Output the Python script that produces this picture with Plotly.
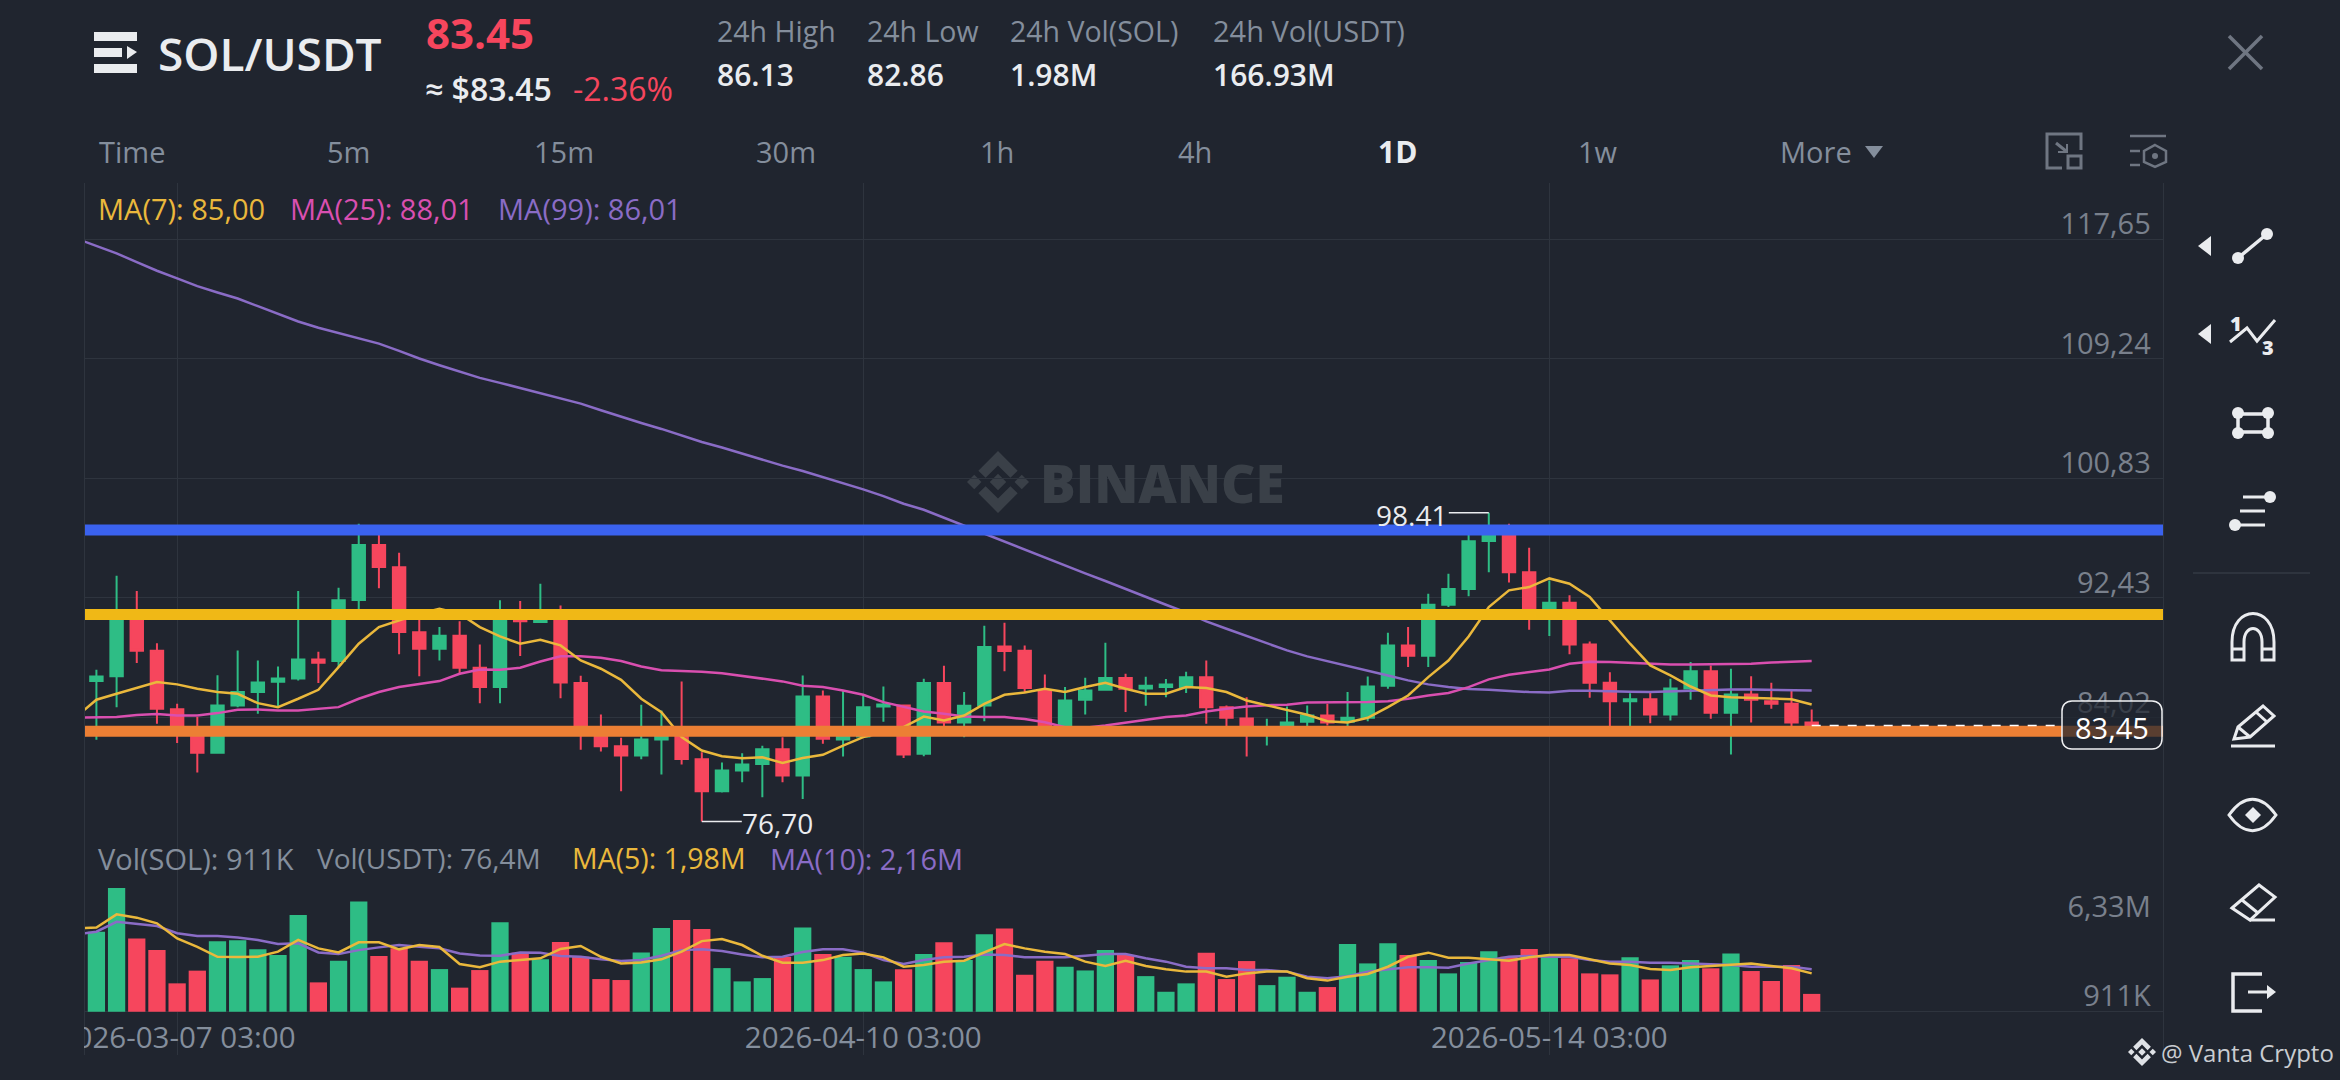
import pandas as pd
import plotly.graph_objects as go

W, H = 2340, 1080
BG = "#20252f"
GRID = "#2e343e"
GREEN = "#2ebd85"
RED = "#f6465d"
GRAY = "#848e9c"
WHITE = "#eaecef"
YELLOW = "#eab83c"
PINK = "#d94fb0"
PURPLE = "#8a6cc6"
FONT = "Open Sans"

# region Data
dates = pd.date_range("2026-03-02 03:00", periods=87, freq="D")

opens = [84.30, 86.57, 86.92, 90.79, 88.70, 84.60, 82.86, 81.53, 84.86, 85.80, 86.52,
         86.76, 88.09, 87.98, 92.27, 96.14, 94.57, 90.00, 88.85, 89.76, 87.51,
         86.15, 91.12, 90.72, 91.54, 86.43, 82.98, 81.99, 81.34, 82.46, 82.75,
         81.08, 78.83, 80.28, 80.75, 81.78, 79.93, 85.49, 82.46, 82.68, 84.79,
         84.86, 81.46, 86.43, 83.66, 84.86, 89.00, 88.70, 85.91, 82.91, 85.26,
         85.96, 86.78, 86.05, 86.15, 86.15, 86.85, 84.74, 83.94, 82.91, 82.91,
         83.71, 84.15, 83.71, 83.99, 86.24, 89.08, 88.35, 91.94, 93.04, 96.42,
         97.06, 94.22, 90.96, 92.08, 89.15, 86.45, 85.16, 85.30, 84.22, 86.05,
         87.27, 84.34, 85.63, 85.16, 84.97, 83.66]
highs = [86.62, 87.37, 93.98, 92.90, 89.24, 84.97, 84.04, 86.99, 88.73, 88.02, 87.60,
         92.90, 88.63, 93.14, 97.64, 97.50, 95.60, 91.07, 90.37, 90.77, 89.15,
         92.25, 92.20, 93.42, 91.89, 86.95, 84.22, 82.58, 84.90, 84.51, 86.55,
         81.57, 80.85, 81.50, 82.02, 82.63, 86.97, 85.91, 85.87, 85.61, 86.19,
         84.93, 86.73, 87.65, 85.80, 90.46, 90.67, 89.08, 87.04, 86.15, 86.80,
         89.27, 87.09, 86.87, 86.71, 87.23, 88.02, 84.86, 85.44, 83.92, 84.79,
         84.86, 84.97, 85.80, 86.90, 89.97, 90.37, 92.72, 94.12, 96.87, 98.41,
         97.64, 95.95, 93.65, 92.60, 89.36, 87.20, 85.72, 85.80, 86.73, 87.91,
         87.67, 87.44, 86.92, 86.45, 85.96, 84.58]
lows = [84.30, 82.44, 84.74, 87.84, 83.57, 82.21, 80.14, 81.46, 84.74, 84.27, 84.74,
        86.62, 86.43, 87.56, 91.64, 93.09, 88.45, 86.92, 88.02, 87.04, 85.02,
        85.02, 88.33, 90.65, 85.37, 81.74, 81.62, 78.83, 81.08, 80.00, 80.71,
        76.70, 78.73, 79.46, 78.41, 79.46, 78.29, 82.16, 81.27, 82.60, 83.71,
        81.17, 81.29, 83.33, 82.63, 83.75, 87.27, 85.80, 82.75, 82.75, 84.22,
        85.91, 84.39, 84.83, 85.44, 85.73, 83.57, 82.91, 81.27, 82.04, 82.75,
        83.10, 83.45, 83.33, 83.75, 86.03, 87.56, 87.56, 91.78, 92.53, 94.22,
        93.51, 90.18, 89.74, 88.45, 85.40, 83.33, 83.38, 83.61, 83.80, 85.26,
        83.92, 81.41, 83.66, 84.62, 83.33, 82.98]
closes = [86.62, 86.90, 90.79, 88.70, 84.62, 82.86, 81.53, 84.86, 85.80, 86.48, 86.76,
          88.09, 87.86, 92.25, 96.14, 94.59, 90.02, 88.85, 89.76, 87.51, 86.15,
          90.89, 90.77, 91.07, 86.48, 82.98, 81.99, 81.34, 82.46, 82.68, 81.10,
          78.83, 80.28, 80.71, 81.78, 79.93, 85.49, 82.51, 82.68, 84.74, 84.93,
          81.41, 86.43, 83.66, 84.83, 88.96, 88.68, 86.08, 82.91, 85.21, 85.91,
          86.78, 86.03, 86.24, 86.34, 86.85, 84.74, 83.99, 82.91, 83.10, 83.66,
          84.15, 83.66, 83.99, 86.19, 89.08, 88.35, 91.94, 93.04, 96.40, 97.06,
          94.22, 91.59, 92.08, 89.15, 86.45, 85.16, 85.30, 84.22, 86.05, 87.27,
          84.34, 85.63, 85.26, 84.97, 83.66, 83.45]

ma7 = [84.06, 85.26, 85.68, 86.10, 86.50, 86.34, 86.03, 85.80, 85.68, 85.02, 84.74,
       85.33, 85.96, 87.55, 89.20, 90.37, 90.84, 91.31, 91.66, 91.31, 90.37,
       89.71, 89.20, 89.48, 89.08, 88.02, 87.44, 86.66, 85.33, 84.39, 82.63,
       81.69, 81.29, 81.15, 81.22, 80.82, 81.17, 81.39, 82.04, 82.63, 82.98,
       83.33, 84.08, 83.80, 84.15, 84.97, 85.61, 85.77, 86.03, 85.80, 86.15,
       86.45, 86.03, 85.68, 85.68, 86.15, 86.08, 85.80, 85.21, 84.86, 84.51,
       84.20, 83.75, 83.66, 83.99, 84.74, 85.56, 86.85, 88.02, 89.71, 91.78,
       92.95, 93.18, 93.79, 93.42, 92.48, 90.84, 89.20, 87.67, 86.97, 86.19,
       85.56, 85.44, 85.40, 85.37, 85.30, 84.93]
ma25 = [84.01, 84.04, 84.04, 84.18, 84.25, 84.15, 84.15, 84.32, 84.55, 84.58, 84.51,
        84.51, 84.60, 84.74, 85.33, 85.80, 86.15, 86.36, 86.57, 87.09, 87.39,
        87.37, 87.51, 87.95, 88.31, 88.31, 88.21, 87.98, 87.60, 87.34, 87.30,
        87.23, 87.13, 86.95, 86.73, 86.55, 86.24, 86.15, 85.91, 85.61, 85.09,
        84.74, 84.43, 84.27, 84.08, 84.04, 84.04, 83.90, 83.68, 83.33, 83.29,
        83.45, 83.66, 83.87, 84.04, 84.15, 84.43, 84.62, 84.79, 84.88, 84.90,
        85.07, 85.07, 85.09, 85.11, 85.16, 85.33, 85.56, 85.73, 86.15, 86.69,
        87.02, 87.20, 87.39, 87.79, 87.93, 87.91, 87.84, 87.79, 87.74, 87.74,
        87.74, 87.74, 87.79, 87.88, 87.95, 87.98]
ma99 = [117.69, 117.18, 116.64, 116.03, 115.42, 114.88, 114.34, 113.89, 113.47, 112.93, 112.37,
        111.85, 111.41, 111.03, 110.70, 110.30, 109.79, 109.25, 108.78, 108.31, 107.89,
        107.54, 107.18, 106.83, 106.48, 106.08, 105.61, 105.14, 104.72, 104.30, 103.85,
        103.38, 102.99, 102.56, 102.14, 101.72, 101.34, 100.92, 100.50, 100.05, 99.58,
        99.04, 98.62, 98.06, 97.52, 96.91, 96.35, 95.79, 95.25, 94.69, 94.15,
        93.61, 93.04, 92.50, 91.94, 91.40, 90.77, 90.25, 89.74, 89.24, 88.73,
        88.31, 87.98, 87.67, 87.32, 86.97, 86.62, 86.34, 86.15, 86.01, 85.96,
        85.87, 85.80, 85.77, 85.89, 85.89, 85.84, 85.82, 85.80, 85.84, 85.91,
        85.96, 85.98, 85.98, 85.96, 85.96, 85.91]

# volumes in millions of SOL
volumes = [5.11, 4.09, 6.33, 3.75, 3.15, 1.45, 2.10, 3.60, 3.65, 3.19, 2.90,
           4.94, 1.50, 2.61, 5.64, 2.85, 3.24, 2.61, 2.18, 1.23, 2.13,
           4.57, 3.02, 2.68, 3.56, 2.81, 1.67, 1.62, 3.03, 4.28, 4.69,
           4.23, 2.23, 1.55, 1.72, 2.81, 4.31, 2.95, 2.81, 2.18, 1.55,
           2.17, 2.95, 3.55, 2.64, 3.96, 4.26, 1.89, 2.61, 2.30, 2.11,
           3.15, 2.90, 1.82, 1.02, 1.45, 3.02, 1.67, 2.59, 1.36, 1.79,
           1.02, 1.26, 3.46, 2.47, 3.50, 2.90, 2.64, 1.96, 2.54, 3.09,
           2.81, 3.21, 2.81, 2.73, 1.96, 1.91, 2.78, 1.65, 2.37, 2.64,
           2.22, 2.98, 2.08, 1.57, 2.39, 0.911]
vol_ma5 = [4.26, 4.31, 4.98, 4.81, 4.52, 3.75, 3.32, 2.81, 2.80, 2.81, 3.07,
           3.67, 3.24, 3.03, 3.55, 3.55, 3.19, 3.41, 3.31, 2.44, 2.27,
           2.56, 2.64, 2.73, 3.21, 3.36, 2.81, 2.47, 2.52, 2.68, 3.07,
           3.61, 3.72, 3.41, 2.86, 2.51, 2.51, 2.64, 2.90, 2.98, 2.78,
           2.30, 2.39, 2.56, 2.61, 3.02, 3.46, 3.24, 3.07, 2.95, 2.56,
           2.34, 2.61, 2.34, 2.17, 2.05, 2.05, 1.79, 1.96, 2.05, 2.05,
           1.71, 1.59, 1.79, 1.93, 2.30, 2.81, 3.02, 2.76, 2.76, 2.68,
           2.61, 2.78, 2.90, 2.90, 2.68, 2.47, 2.39, 2.18, 2.13, 2.27,
           2.34, 2.42, 2.47, 2.34, 2.22, 1.96]
vol_ma10 = [3.96, 4.09, 4.60, 4.48, 4.38, 4.01, 3.87, 3.87, 3.79, 3.67, 3.46,
            3.50, 3.03, 2.95, 3.15, 3.29, 3.41, 3.32, 3.24, 2.98, 2.88,
            2.86, 3.03, 3.02, 2.85, 2.81, 2.68, 2.59, 2.64, 2.86, 3.15,
            3.19, 3.10, 2.93, 2.78, 2.81, 3.05, 3.19, 3.19, 3.02, 2.64,
            2.44, 2.64, 2.78, 2.81, 2.93, 2.90, 2.78, 2.78, 2.78, 2.86,
            2.95, 2.95, 2.73, 2.56, 2.30, 2.22, 2.22, 2.13, 2.13, 2.05,
            1.79, 1.71, 1.82, 2.05, 2.17, 2.27, 2.27, 2.25, 2.47, 2.64,
            2.81, 2.85, 2.81, 2.81, 2.64, 2.56, 2.56, 2.51, 2.51, 2.47,
            2.42, 2.39, 2.30, 2.30, 2.30, 2.17]

price_ticks = [75.61, 84.02, 92.43, 100.83, 109.24, 117.65]
price_labels = ["75,61", "84,02", "92,43", "100,83", "109,24", "117,65"]
vol_ticks = [0, 4.54]
vol_labels = ["911K", "6,33M"]

resistance = 97.2
middle = 91.25
support = 83.05
last_price = 83.45
# endregion


# region Pixel helpers for everything around the chart
def px(x):
    return x / W


def py(y):
    return 1 - y / H


def to_paper(d):
    """Turns 'M x y L x y Z' written in screen pixels into paper coordinates."""
    out, is_x = [], True
    for tok in d.split():
        if tok.isalpha():
            out.append(tok)
        else:
            out.append(str(px(float(tok))) if is_x else str(py(float(tok))))
            is_x = not is_x
    return " ".join(out)


shapes = []
notes = []


def path(d, color=WHITE, width=3, fill=None, layer="above"):
    shapes.append(dict(type="path", xref="paper", yref="paper", path=to_paper(d), layer=layer,
                       fillcolor=fill or "rgba(0,0,0,0)", line=dict(color=color, width=width)))


def dot(cx, cy, r, color=WHITE):
    shapes.append(dict(type="circle", xref="paper", yref="paper", x0=px(cx - r), x1=px(cx + r),
                       y0=py(cy + r), y1=py(cy - r), fillcolor=color, line=dict(width=0)))


def txt(x, y, text, size, color=GRAY, anchor="left", weight=400):
    notes.append(dict(xref="paper", yref="paper", x=px(x), y=py(y), text=text, showarrow=False,
                      xanchor=anchor, yanchor="middle", borderpad=0,
                      font=dict(family=FONT, size=size, color=color, weight=weight)))


def binance_logo(cx, cy, r, color, layer="above"):
    # r is half the logo height
    s = r / 30
    def p(pts):
        return "M " + " L ".join(f"{cx + a * s} {cy + b * s}" for a, b in pts) + " Z"
    path(p([(0, -8), (8, 0), (0, 8), (-8, 0)]), color, 0, color, layer)
    path(p([(-30, 0), (-23, -7), (-16, 0), (-23, 7)]), color, 0, color, layer)
    path(p([(30, 0), (23, -7), (16, 0), (23, 7)]), color, 0, color, layer)
    path(p([(0, -30), (19, -11), (12, -4), (0, -16), (-12, -4), (-19, -11)]), color, 0, color, layer)
    path(p([(0, 30), (19, 11), (12, 4), (0, 16), (-12, 4), (-19, 11)]), color, 0, color, layer)
# endregion


fig = go.Figure()

# region Traces
vol_colors = [GREEN if c >= o else RED for o, c in zip(opens, closes)]

fig.add_trace(go.Candlestick(
    x=dates, open=opens, high=highs, low=lows, close=closes,
    increasing=dict(line=dict(color=GREEN, width=2), fillcolor=GREEN),
    decreasing=dict(line=dict(color=RED, width=2), fillcolor=RED),
    whiskerwidth=0, hoverinfo="skip", yaxis="y"))
for values, color in [(ma99, PURPLE), (ma25, PINK), (ma7, YELLOW)]:
    fig.add_trace(go.Scatter(x=dates, y=values, mode="lines", hoverinfo="skip", yaxis="y",
                             line=dict(color=color, width=2.5)))

fig.add_trace(go.Bar(x=dates, y=volumes, marker=dict(color=vol_colors, line=dict(width=0)),
                     width=74000000, hoverinfo="skip", yaxis="y2"))
for values, color in [(vol_ma10, PURPLE), (vol_ma5, YELLOW)]:
    fig.add_trace(go.Scatter(x=dates, y=values, mode="lines", hoverinfo="skip", yaxis="y2",
                             line=dict(color=color, width=2.5)))
# endregion

# region Levels and price marks
for level, color in [(resistance, "#3a62ef"), (middle, "#f0b816"), (support, "#ec7f34")]:
    shapes.append(dict(type="line", xref="x domain", yref="y", x0=0, x1=1, y0=level, y1=level,
                       layer="above", line=dict(color=color, width=11)))

# dashed line from the last candle to the price box
shapes.append(dict(type="line", xref="x", yref="y", x0=dates[-1], x1="2026-06-08 13:30",
                   y0=last_price, y1=last_price, layer="above",
                   line=dict(color="#ffffff", width=1.5, dash="dash")))
shapes.append(dict(type="path", xref="paper", yref="paper", layer="above",
                   path=to_paper("M 2072 701 L 2152 701 C 2158 701 2162 705 2162 711 L 2162 739 "
                                 "C 2162 745 2158 749 2152 749 L 2072 749 C 2066 749 2062 745 2062 739 "
                                 "L 2062 711 C 2062 705 2066 701 2072 701 Z"),
                   fillcolor="rgba(32,37,47,0.72)", line=dict(color="#f0f1f3", width=1.5)))
txt(2112, 727, "83,45", 29, "#ffffff", "center")

# high and low markers
low_i = lows.index(min(lows))
high_i = highs.index(max(highs))
shapes.append(dict(type="line", xref="x", yref="y", xsizemode="pixel", xanchor=dates[high_i],
                   x0=-40, x1=0, y0=highs[high_i], y1=highs[high_i], line=dict(color=WHITE, width=1.5)))
shapes.append(dict(type="line", xref="x", yref="y", xsizemode="pixel", xanchor=dates[low_i],
                   x0=0, x1=40, y0=lows[low_i], y1=lows[low_i], line=dict(color=WHITE, width=1.5)))
notes.append(dict(xref="x", yref="y", x=dates[high_i], y=highs[high_i], text="98.41", showarrow=False,
                  xanchor="right", yanchor="middle", xshift=-40, yshift=-2,
                  font=dict(family=FONT, size=28, color=WHITE)))
notes.append(dict(xref="x", yref="y", x=dates[low_i], y=lows[low_i], text="76,70", showarrow=False,
                  xanchor="left", yanchor="middle", xshift=38, yshift=-1,
                  font=dict(family=FONT, size=28, color=WHITE)))

# cuts the first date label at the chart edge
shapes.append(dict(type="rect", xref="paper", yref="paper", x0=0, x1=px(84), y0=py(1056), y1=py(1016),
                   fillcolor=BG, line=dict(width=0), layer="above"))
# endregion

# region Header, tabs and legends
# menu icon
path("M 94 32 L 137 32 L 137 41 L 94 41 Z", WHITE, 0, WHITE)
path("M 94 48 L 122 48 L 122 57 L 94 57 Z", WHITE, 0, WHITE)
path("M 94 64 L 137 64 L 137 73 L 94 73 Z", WHITE, 0, WHITE)
path("M 127 46 L 137 52 L 127 59 Z", WHITE, 0, WHITE)

txt(157, 53, "SOL/USDT", 46, WHITE, weight=600)
txt(425, 32, "83.45", 42, RED, weight=700)
txt(424, 88, "≈ $83.45", 32, WHITE, weight=600)
txt(572, 88, "-2.36%", 32, RED, weight=500)
txt(716, 31, "24h High", 28.5, GRAY, weight=500)
txt(866, 31, "24h Low", 28.5, GRAY, weight=500)
txt(1009, 31, "24h Vol(SOL)", 28.5, GRAY, weight=500)
txt(1212, 31, "24h Vol(USDT)", 29, GRAY, weight=500)
txt(716, 75, "86.13", 30, WHITE, weight=600)
txt(866, 75, "82.86", 30, WHITE, weight=600)
txt(1009, 75, "1.98M", 30, WHITE, weight=600)
txt(1212, 75, "166.93M", 30, WHITE, weight=600)

for x, label in [(98, "Time"), (326, "5m"), (533, "15m"), (755, "30m"), (979, "1h"),
                 (1177, "4h"), (1577, "1w"), (1779, "More")]:
    txt(x, 152, label, 29, GRAY)
txt(1377, 152, "1D", 30, WHITE, weight=700)
path("M 1865 146 L 1883 146 L 1874 158 Z", GRAY, 0, GRAY)

txt(97, 208, "MA(7): 85,00", 29, YELLOW)
txt(289, 208, "MA(25): 88,01", 29, PINK)
txt(497, 208, "MA(99): 86,01", 29, PURPLE)
txt(97, 858, "Vol(SOL): 911K", 29, GRAY)
txt(316, 858, "Vol(USDT): 76,4M", 28, GRAY)
txt(571, 858, "MA(5): 1,98M", 28.5, YELLOW)
txt(769, 858, "MA(10): 2,16M", 29, PURPLE)

# watermark
binance_logo(998, 482, 31, "#3a4048", "below")
txt(1039, 483, "BINANCE", 53, "#3a4048", weight=800)
# credit
binance_logo(2142, 1052, 14, "#dfe2e6")
txt(2160, 1052, "@ Vanta Crypto", 24, "#c9ccd1")
# endregion

# region Tool icons
ICON_GRAY = "#6f7682"
path("M 2229 36 L 2262 69", ICON_GRAY, 3.5)
path("M 2262 36 L 2229 69", ICON_GRAY, 3.5)

path("M 2074 134 L 2047 134 L 2047 168 L 2062 168", ICON_GRAY, 3)
path("M 2074 134 L 2081 134 L 2081 150", ICON_GRAY, 3)
path("M 2068 156 L 2081 156 L 2081 168 L 2068 168 Z", ICON_GRAY, 3)
path("M 2056 143 L 2066 151", ICON_GRAY, 3)
path("M 2067 144 L 2067 152 L 2058 152", ICON_GRAY, 2)
path("M 2130 136 L 2166 136", ICON_GRAY, 2.5)
path("M 2130 151 L 2140 151", ICON_GRAY, 2.5)
path("M 2130 165 L 2140 165", ICON_GRAY, 2.5)
path("M 2155 145 L 2166 151 L 2166 162 L 2155 167 L 2144 162 L 2144 151 Z", ICON_GRAY, 2.5)
dot(2155, 156, 3, ICON_GRAY)

path("M 2211 236 L 2198 246 L 2211 256 Z", WHITE, 0, WHITE)
path("M 2211 324 L 2198 334 L 2211 344 Z", WHITE, 0, WHITE)

# trend line
path("M 2238 258 L 2267 234", WHITE, 3.5)
dot(2238, 258, 6)
dot(2267, 234, 6)
# wave
path("M 2230 342 L 2247 328 L 2257 341 L 2275 320", WHITE, 3)
txt(2236, 323, "1", 20, WHITE, "center", 800)
txt(2268, 347, "3", 20, WHITE, "center", 800)
# rectangle
path("M 2238 414 L 2268 414 L 2268 432 L 2238 432 Z", WHITE, 3.5)
for cx, cy in [(2238, 413), (2268, 413), (2238, 433), (2268, 433)]:
    dot(cx, cy, 6)
# fib
for y, x0 in [(497, 2243), (511, 2240), (525, 2240)]:
    path(f"M {x0} {y} L 2265 {y}", WHITE, 3)
dot(2235, 525, 6)
dot(2270, 497, 6)

path("M 2193 573 L 2310 573", GRID, 2)

# magnet
path("M 2232 660 L 2232 642 C 2232 604 2274 604 2274 642 L 2274 660 L 2262 660 L 2262 642 "
     "C 2262 624 2244 624 2244 642 L 2244 660 Z", WHITE, 3)
path("M 2232 649 L 2244 649", WHITE, 3)
path("M 2262 649 L 2274 649", WHITE, 3)
# pencil
path("M 2234 739 L 2238 727 L 2263 706 L 2274 716 L 2250 737 Z", WHITE, 3)
path("M 2238 727 L 2250 737", WHITE, 3)
path("M 2256 712 L 2267 722", WHITE, 3)
path("M 2231 746 L 2275 746", WHITE, 3)
# eye
path("M 2229 815 C 2244 794 2261 794 2276 815 C 2261 836 2244 836 2229 815 Z", WHITE, 3)
path("M 2253 807 L 2261 815 L 2253 823 L 2245 815 Z", WHITE, 0, WHITE)
# eraser
path("M 2232 908 L 2259 885 L 2275 897 L 2250 920 Z", WHITE, 3)
path("M 2242 900 L 2258 913", WHITE, 3)
path("M 2250 920 L 2275 920", WHITE, 3)
# leave
path("M 2262 974 L 2233 974 L 2233 1011 L 2262 1011", WHITE, 3.5)
path("M 2248 992 L 2269 992", WHITE, 3)
path("M 2267 985 L 2276 992 L 2267 999 Z", WHITE, 0, WHITE)
# endregion

# region Layout
fig.update_layout(
    width=W, height=H, autosize=False,
    margin=dict(l=0, r=0, t=0, b=0),
    paper_bgcolor=BG, plot_bgcolor=BG,
    showlegend=False,
    boxgap=0.12,
    hovermode=False,
    dragmode=False,
    shapes=shapes,
    annotations=notes,
    font=dict(family=FONT, color=GRAY),
    xaxis=dict(
        domain=[px(85), px(2163)],
        anchor="y2",
        type="date",
        automargin=False,
        range=["2026-03-02 13:26", "2026-06-13 12:50"],
        rangeslider=dict(visible=False),
        tickmode="linear",
        tick0="2026-03-07 03:00",
        dtick=34 * 86400000,
        tickformat="%Y-%m-%d %H:%M",
        tickangle=0,
        ticks="",
        showgrid=True, gridcolor=GRID, gridwidth=1,
        zeroline=False, showline=False,
        ticklabelstandoff=-38,
        tickfont=dict(family=FONT, size=29.5, color=GRAY),
    ),
    yaxis=dict(
        domain=[py(837), py(183)],
        anchor="x",
        side="right",
        automargin=False,
        range=[75.61, 121.59],
        tickmode="array", tickvals=price_ticks, ticktext=price_labels,
        ticklabelposition="inside",
        ticklabelstandoff=15,
        ticklabelshift=-15,
        ticks="",
        showgrid=True, gridcolor=GRID, gridwidth=1,
        zeroline=False, showline=True, linecolor=GRID, linewidth=1, mirror=True,
        tickfont=dict(family=FONT, size=29, color="#79808c"),
    ),
    yaxis2=dict(
        domain=[py(1055), py(837)],
        anchor="x",
        side="right",
        automargin=False,
        range=[-2.215, 8.936],
        tickmode="array", tickvals=vol_ticks, ticktext=vol_labels,
        ticklabelposition="inside",
        ticklabelstandoff=15,
        ticklabelshift=-16,
        ticks="",
        showgrid=False,
        zeroline=True, zerolinecolor=GRID, zerolinewidth=1,
        showline=True, linecolor=GRID, linewidth=1, mirror=True,
        tickfont=dict(family=FONT, size=29, color="#79808c"),
    ),
)
# endregion

fig.write_html("out.html", config={"displayModeBar": False},
               post_script="document.body.style.margin='0';document.body.style.overflow='hidden';")
